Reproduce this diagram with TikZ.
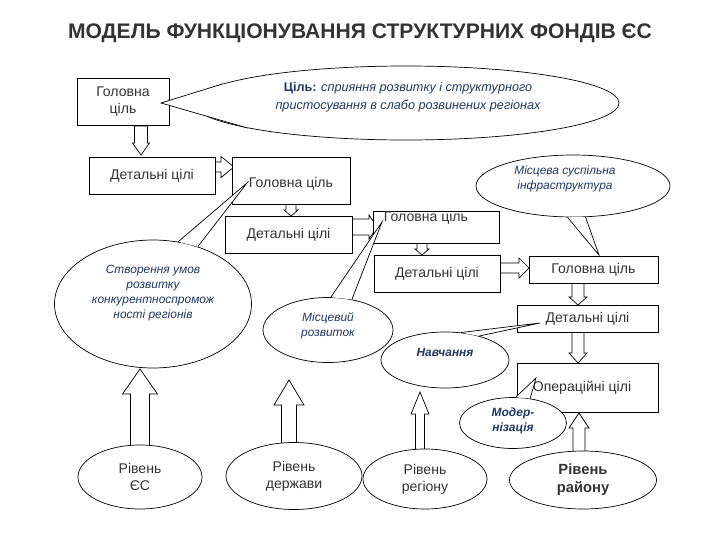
\documentclass[tikz,border=0pt]{standalone}
\usepackage{fontspec}
\setmainfont{Liberation Sans}
\usetikzlibrary{shapes.geometric}
\definecolor{txt}{HTML}{333333}
\definecolor{navy}{HTML}{1F3A60}
\tikzset{
  box/.style={draw, fill=white, rectangle, inner sep=0pt},
  lbl/.style={text=txt, font=\fontsize{10}{12}\selectfont, align=center},
  itl/.style={text=navy, font=\fontsize{8.5}{10.5}\selectfont\itshape, align=center},
  bub/.style={draw, fill=white, ellipse, inner sep=0pt},
}
% block arrow: \barr{x}{y from}{y to}{half shaft}{half head}{head length}
\newcommand\barr[6]{%
  \pgfmathsetmacro\dd{(#3>#2)?1:-1}%
  \draw[fill=white] (#1-#4,#2) -- (#1-#4,#3-\dd*#6) -- (#1-#5,#3-\dd*#6) -- (#1,#3)
    -- (#1+#5,#3-\dd*#6) -- (#1+#4,#3-\dd*#6) -- (#1+#4,#2) -- cycle;}
\newcommand\harr[6]{%
  \draw[fill=white] (#2,#1-#4) -- (#3-#6,#1-#4) -- (#3-#6,#1-#5) -- (#3,#1)
    -- (#3-#6,#1+#5) -- (#3-#6,#1+#4) -- (#2,#1+#4) -- cycle;}
% callout tail: ellipse node, two border angles, tip
\newcommand\tail[4]{%
  \fill[white] (#1.#2) -- (#4) -- (#1.#3) -- cycle;
  \draw (#1.#2) -- (#4) -- (#1.#3);}
\begin{document}
\begin{tikzpicture}[x=0.25mm, y=-0.25mm, line width=0.5pt]
\useasboundingbox (0,0) rectangle (720,540);

\node[text=txt, font=\fontsize{15}{18}\selectfont\bfseries] (title) at (360,33)
  {МОДЕЛЬ ФУНКЦІОНУВАННЯ СТРУКТУРНИХ ФОНДІВ ЄС};

% arrows between boxes
\barr{141}{126}{155}{6.5}{8.5}{12}
\harr{167}{205}{234}{5}{10.5}{13}
\barr{291}{204}{216}{5}{7}{6}
\harr{227}{352}{377}{8}{12}{8}
\barr{422}{243}{255}{5}{7}{6}
\harr{268}{499}{529}{5}{10}{10}
\barr{578}{283}{305}{6}{9}{8}
\barr{578}{332}{363}{6}{9}{10}

% boxes
\node[box, minimum width=92*0.25mm, minimum height=47*0.25mm] (g1) at (123,101.5) {};
\node[lbl] (g1t) at (g1) {Головна\\ціль};
\node[box, minimum width=126*0.25mm, minimum height=37*0.25mm] (d1) at (152,175.5) {};
\node[lbl] (d1t) at (d1) {Детальні цілі};
\node[box, minimum width=118*0.25mm, minimum height=47*0.25mm] (g2) at (291,180.5) {};
\node[lbl] (g2t) at (291,184) {Головна ціль};
\node[box, minimum width=127*0.25mm, minimum height=37*0.25mm] (d2) at (288.5,234.5) {};
\node[lbl] (d2t) at (d2) {Детальні цілі};
\node[box, minimum width=126*0.25mm, minimum height=32*0.25mm] (g3) at (436,227) {};
\node[lbl] (g3t) at (426,218) {Головна ціль};
\node[box, minimum width=126*0.25mm, minimum height=37*0.25mm] (d3) at (437,273.5) {};
\node[lbl] (d3t) at (d3) {Детальні цілі};
\node[box, minimum width=129*0.25mm, minimum height=27*0.25mm] (g4) at (593.5,269.5) {};
\node[lbl] (g4t) at (g4) {Головна ціль};
\node[box, minimum width=141*0.25mm, minimum height=27*0.25mm] (d4) at (587.5,318.5) {};
\node[lbl] (d4t) at (d4) {Детальні цілі};
\node[box, minimum width=141*0.25mm, minimum height=49*0.25mm] (op) at (587.5,387.5) {};
\node[lbl] (opt) at (582,388) {Операційні цілі};

% up arrows from levels
\barr{140}{451}{369}{9.5}{17.5}{25}
\barr{289}{444}{380}{7.5}{15}{25}
\barr{420}{452}{392}{4.5}{9}{22}
\barr{579}{452}{413}{6}{10}{15}

% levels
\node[bub, minimum width=124*0.25mm, minimum height=64*0.25mm] (l1) at (140,477) {};
\node[lbl] (l1t) at (l1) {Рівень\\ЄС};
\node[bub, minimum width=136*0.25mm, minimum height=67*0.25mm] (l2) at (294,476) {};
\node[lbl] (l2t) at (l2) {Рівень\\держави};
\node[bub, minimum width=124*0.25mm, minimum height=60*0.25mm] (l3) at (425,479) {};
\node[lbl] (l3t) at (l3) {Рівень\\регіону};
\node[bub, minimum width=147*0.25mm, minimum height=58*0.25mm] (l4) at (583,480) {};
\node[lbl, font=\fontsize{10.5}{13}\selectfont\bfseries] (l4t) at (l4) {Рівень\\району};

% callouts
\node[bub, minimum width=426*0.25mm, minimum height=74*0.25mm] (c1) at (406,103) {};
\coordinate (c1p) at (161,103);
\tail{c1}{174}{189}{c1p}
\node[itl, font=\fontsize{9}{13}\selectfont\itshape] (c1t) at (408,97)
  {\textbf{\upshape Ціль:} сприяння розвитку і структурного\\пристосування в слабо розвинених регіонах};

\node[bub, minimum width=194*0.25mm, minimum height=62*0.25mm] (c2) at (573,186) {};
\coordinate (c2p) at (599,255);
\tail{c2}{-100}{-68}{c2p}
\node[itl] (c2t) at (565,179) {Місцева суспільна\\інфраструктура};

\node[bub, minimum width=197*0.25mm, minimum height=128*0.25mm] (c3) at (153,304) {};
\coordinate (c3p) at (247,183);
\tail{c3}{68}{52}{c3p}
\node[itl] (c3t) at (153,293) {Створення умов\\розвитку\\конкурентноспромож\\ності регіонів};

\node[bub, minimum width=130*0.25mm, minimum height=65*0.25mm] (c4) at (328,330) {};
\coordinate (c4p) at (382,222);
\tail{c4}{85}{52}{c4p}
\node[itl] (c4t) at (328,326) {Місцевий\\розвиток};

\node[bub, minimum width=128*0.25mm, minimum height=56*0.25mm] (c5) at (445,360) {};
\coordinate (c5p) at (540,323);
\tail{c5}{60}{35}{c5p}
\node[itl, font=\fontsize{8.5}{10.5}\selectfont\itshape\bfseries] (c5t) at (445,352) {Навчання};

\node[bub, minimum width=107*0.25mm, minimum height=51*0.25mm] (c6) at (513,423) {};
\coordinate (c6p) at (536,378);
\tail{c6}{84}{55}{c6p}
\node[itl, font=\fontsize{8.5}{10.5}\selectfont\itshape\bfseries] (c6t) at (513,421) {Модер-\\нізація};
\end{tikzpicture}
\end{document}
